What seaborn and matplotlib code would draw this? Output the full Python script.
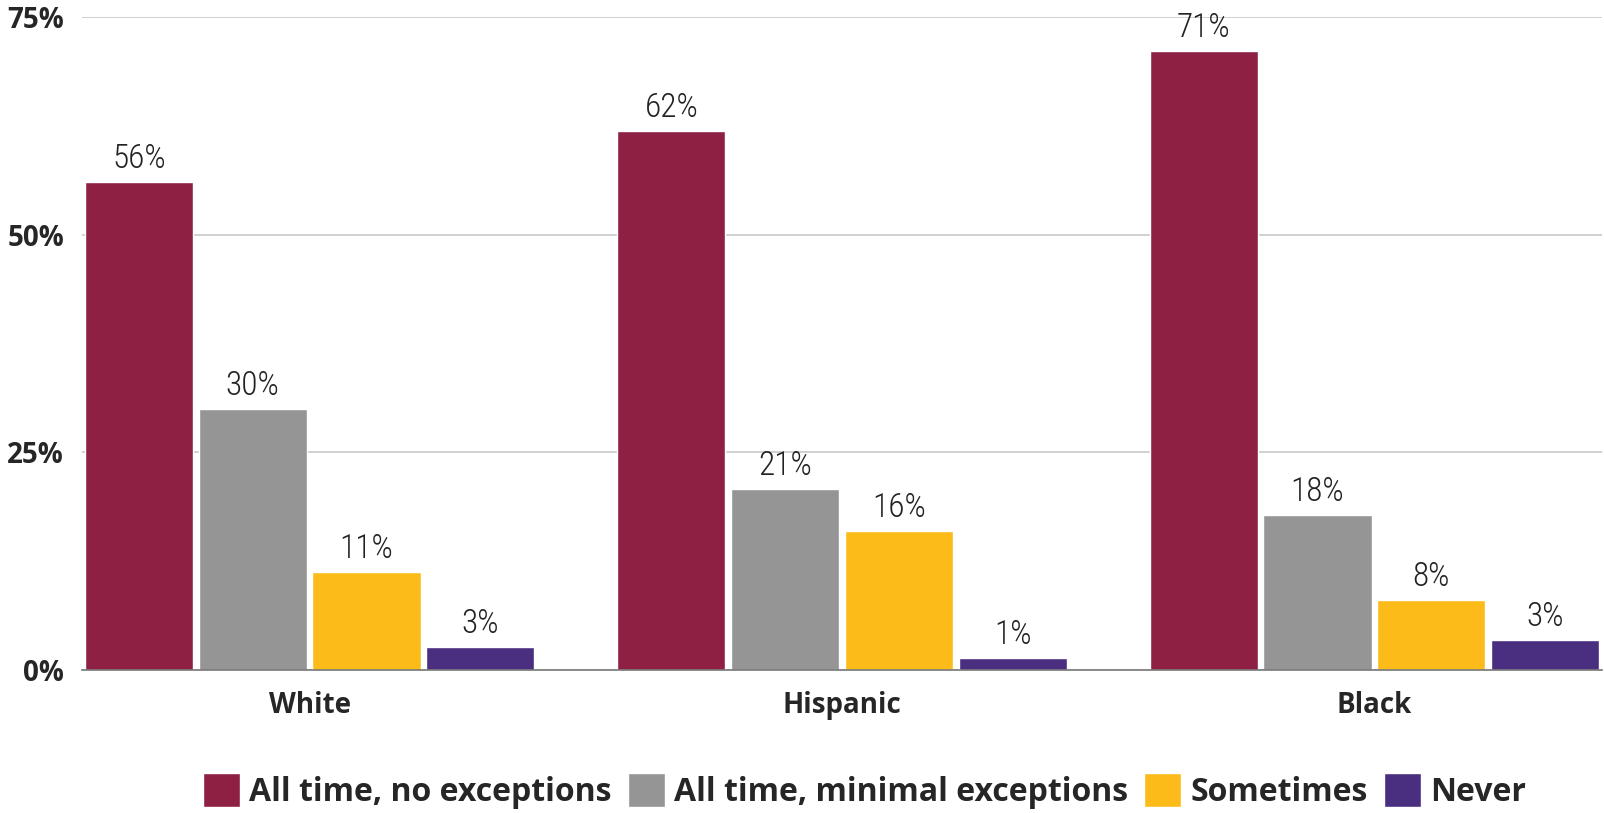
import pandas as pd
import matplotlib
matplotlib.use("Agg")
import matplotlib.pyplot as plt
import seaborn as sns

# Data
groups = ["White", "Hispanic", "Black"]
responses = ["All time, no exceptions", "All time, minimal exceptions", "Sometimes", "Never"]
white_vals = [56.1, 30.0, 11.3, 2.6]
hispanic_vals = [61.9, 20.8, 16.0, 1.4]
black_vals = [71.1, 17.8, 8.0, 3.4]
colors = ["#8E2043", "#959595", "#FDBB1A", "#4A2F80"]
y_ticks = [0, 25, 50, 75]

rows = []
for g, vals in zip(groups, [white_vals, hispanic_vals, black_vals]):
    for r, v in zip(responses, vals):
        rows.append({"group": g, "response": r, "value": v})
df = pd.DataFrame(rows)

sns.set_style("white")
plt.rcParams["font.family"] = ["Open Sans", "DejaVu Sans"]

fig = plt.figure(figsize=(16.04, 8.13), dpi=100)
ax = fig.add_axes([0.0511, 0.1759, 0.9477, 0.8031])

group_width = 0.855
sns.barplot(data=df, x="group", y="value", hue="response", order=groups,
            hue_order=responses, palette=colors, width=group_width, gap=0.05,
            saturation=1, ax=ax, legend=True)

for cont in ax.containers:
    ax.bar_label(cont, fmt="%.0f%%", padding=5, fontsize=24, fontweight="light",
                 family=["Roboto Condensed", "Roboto", "DejaVu Sans"],
                 color="#222222")

ax.set_xlim(-group_width / 2, len(groups) - 1 + group_width / 2)
ax.set_ylim(0, 75)
ax.set_yticks(y_ticks)
ax.set_yticklabels([f"{t}%" for t in y_ticks], fontsize=20, fontweight="bold")
ax.tick_params(axis="y", length=0, pad=13)
ax.tick_params(axis="x", length=0, pad=15, labelsize=20)
for lab in ax.get_xticklabels():
    lab.set_fontweight("bold")
ax.set_xlabel("")
ax.set_ylabel("")
ax.yaxis.grid(True, color="#c8c8c8", linewidth=1.2)
ax.set_axisbelow(True)
for side in ["top", "right", "left"]:
    ax.spines[side].set_visible(False)
ax.spines["bottom"].set_color("#777777")
ax.spines["bottom"].set_linewidth(1.2)

handles, labels = ax.get_legend_handles_labels()
ax.get_legend().remove()
fig.legend(handles, labels, loc="lower center", bbox_to_anchor=(0.539, -0.03),
           ncol=4, frameon=False, prop={"size": 23, "weight": "bold"},
           handlelength=1.15, handleheight=1.3, handletextpad=0.3,
           columnspacing=0.5)

fig.savefig("out.png", dpi=100)
